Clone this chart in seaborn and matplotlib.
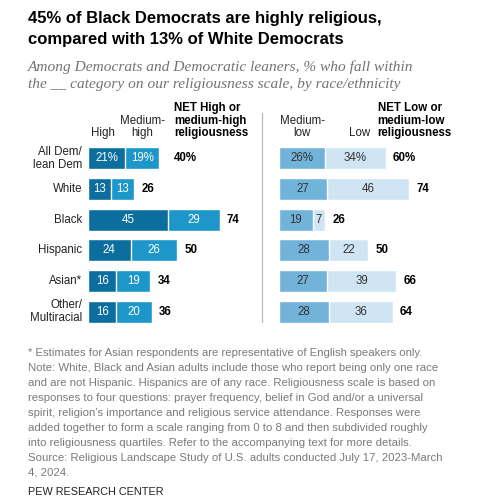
import matplotlib
matplotlib.use('Agg')
import matplotlib.pyplot as plt
import seaborn as sns
import pandas as pd
from matplotlib.lines import Line2D

# Datos
grupos = ['All Dem/\nlean Dem', 'White', 'Black', 'Hispanic', 'Asian*', 'Other/\nMultiracial']
alta = [21, 13, 45, 24, 16, 16]
media_alta = [19, 13, 29, 26, 19, 20]
net_alta = [40, 26, 74, 50, 34, 36]
media_baja = [26, 27, 19, 28, 27, 28]
baja = [34, 46, 7, 22, 39, 36]
net_baja = [60, 74, 26, 50, 66, 64]

sns.set_style('white')
plt.rcParams['font.family'] = ['Liberation Sans', 'DejaVu Sans']

c_alta = '#0b6e9e'
c_media_alta = '#1d97c9'
c_media_baja = '#72b3da'
c_baja = '#cfe5f3'
gris = '#7a7a7a'

df = pd.DataFrame({'grupo': grupos, 'alta': alta, 'media_alta': media_alta,
                   'net_alta': net_alta, 'media_baja': media_baja, 'baja': baja,
                   'net_baja': net_baja})
df['tot_izq'] = df['alta'] + df['media_alta']
df['tot_der'] = df['media_baja'] + df['baja']

fig = plt.figure(figsize=(4.8, 5.04), dpi=100)
W, H = 480, 504
px = 1.78  # pixeles por punto porcentual

def caja(x0, y0, x1, y1):
    return [x0 / W, 1 - y1 / H, (x1 - x0) / W, (y1 - y0) / H]

ax1 = fig.add_axes(caja(88, 143, 250, 327))
ax2 = fig.add_axes(caja(279, 143, 475, 327))

ancho = 0.72
sns.barplot(data=df, x='tot_izq', y='grupo', orient='h', color=c_media_alta,
            width=ancho, saturation=1, ax=ax1)
sns.barplot(data=df, x='alta', y='grupo', orient='h', color=c_alta,
            width=ancho, saturation=1, ax=ax1)
sns.barplot(data=df, x='tot_der', y='grupo', orient='h', color=c_baja,
            width=ancho, saturation=1, ax=ax2)
sns.barplot(data=df, x='media_baja', y='grupo', orient='h', color=c_media_baja,
            width=ancho, saturation=1, ax=ax2)

ax1.set_xlim(0, 162 / px)
ax2.set_xlim(0, 196 / px)
for ax in (ax1, ax2):
    ax.set_ylim(5.5, -0.5)
    ax.axis('off')

fs = 8.3
for i, g in enumerate(grupos):
    pct = '%' if i == 0 else ''
    ax1.text(-3.3, i, g, ha='right', va='center', fontsize=fs, color='#222222',
             linespacing=1.05)
    ax1.text(alta[i] / 2, i, f'{alta[i]}{pct}', ha='center', va='center',
             fontsize=fs, color='white')
    ax1.text(alta[i] + media_alta[i] / 2, i, f'{media_alta[i]}{pct}', ha='center',
             va='center', fontsize=fs, color='white')
    x_net = 48.3 if i == 0 else df['tot_izq'][i] + 4
    ax1.text(x_net, i, f'{net_alta[i]}{pct}', ha='left', va='center',
             fontsize=fs, color='black', fontweight='bold')

    ax2.text(media_baja[i] / 2, i, f'{media_baja[i]}{pct}', ha='center',
             va='center', fontsize=fs, color='#333333')
    ax2.text(media_baja[i] + baja[i] / 2, i, f'{baja[i]}{pct}', ha='center',
             va='center', fontsize=fs, color='#333333')
    ax2.text(df['tot_der'][i] + 4, i, f'{net_baja[i]}{pct}', ha='left',
             va='center', fontsize=fs, color='black', fontweight='bold')

# Encabezados de columnas
y_enc = -0.62
ax1.text(alta[0] / 2 - 2, y_enc, 'High', ha='center', va='bottom', fontsize=fs, color='#222222')
ax1.text(alta[0] + media_alta[0] / 2, y_enc, 'Medium-\nhigh', ha='center', va='bottom',
         fontsize=fs, color='#222222', linespacing=1.05)
ax1.text(48.3, y_enc, 'NET High or\nmedium-high\nreligiousness', ha='left', va='bottom',
         fontsize=fs, color='black', fontweight='bold', linespacing=1.05)
ax2.text(media_baja[0] / 2, y_enc, 'Medium-\nlow', ha='center', va='bottom',
         fontsize=fs, color='#222222', linespacing=1.05)
ax2.text(media_baja[0] + baja[0] / 2 + 2, y_enc, 'Low', ha='center', va='bottom',
         fontsize=fs, color='#222222')
ax2.text(55.4, y_enc, 'NET Low or\nmedium-low\nreligiousness', ha='left', va='bottom',
         fontsize=fs, color='black', fontweight='bold', linespacing=1.05)
for ax in (ax1, ax2):
    for t in ax.texts:
        t.set_clip_on(False)

# Linea divisoria
fig.add_artist(Line2D([262 / W, 262 / W], [1 - 113 / H, 1 - 322 / H],
                      color='#bbbbbb', linewidth=0.9))

# Titulo y subtitulo
fig.text(28 / W, 1 - 11 / H, '45% of Black Democrats are highly religious,\ncompared with 13% of White Democrats',
         ha='left', va='top', fontsize=12, fontweight='bold', color='black', linespacing=1.48)
fig.text(28 / W, 1 - 60 / H,
         'Among Democrats and Democratic leaners, % who fall within\nthe __ category on our religiousness scale, by race/ethnicity',
         ha='left', va='top', fontsize=11.1, style='italic', color='#737373',
         family=['Liberation Serif', 'DejaVu Serif'], linespacing=1.42)

nota = ('* Estimates for Asian respondents are representative of English speakers only.\n'
        'Note: White, Black and Asian adults include those who report being only one race\n'
        'and are not Hispanic. Hispanics are of any race. Religiousness scale is based on\n'
        'responses to four questions: prayer frequency, belief in God and/or a universal\n'
        'spirit, religion\u2019s importance and religious service attendance. Responses were\n'
        'added together to form a scale ranging from 0 to 8 and then subdivided roughly\n'
        'into religiousness quartiles. Refer to the accompanying text for more details.\n'
        'Source: Religious Landscape Study of U.S. adults conducted July 17, 2023-March\n'
        '4, 2024.')
fig.text(28 / W, 1 - 348 / H, nota, ha='left', va='top', fontsize=8.2, color=gris,
         linespacing=1.62)
fig.text(28 / W, 1 - 487 / H, 'PEW RESEARCH CENTER', ha='left', va='top', fontsize=7.8,
         color='#222222')

fig.savefig('out.png', dpi=100)
